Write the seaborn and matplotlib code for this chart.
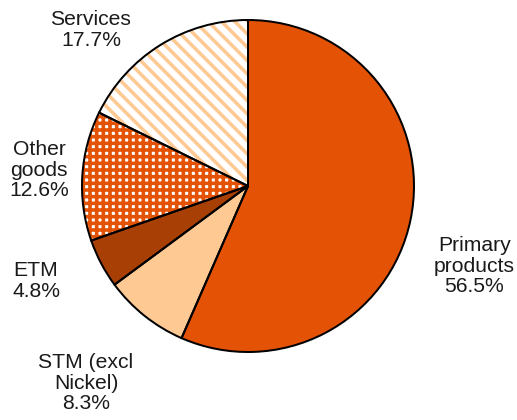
import matplotlib
matplotlib.use("Agg")
import matplotlib.pyplot as plt
import seaborn as sns

# export shares by category (%)
categories = ["Primary\nproducts", "STM (excl\nNickel)", "ETM", "Other\ngoods", "Services"]
shares = [56.5, 8.3, 4.8, 12.6, 17.7]

sns.set_theme(style="white")
plt.rcParams["font.family"] = ["Liberation Sans", "DejaVu Sans"]
plt.rcParams["hatch.linewidth"] = 3.2

fill_colors = ["#E35205", "#FFC993", "#A84005", "white", "white"]
hatch_colors = ["#E35205", "#FFC993", "#A84005", "#E35205", "#FFC993"]
hatches = [None, None, None, "++", "\\\\"]

# dpi 80 so that hatch spacing comes out like the reference
DPI = 80
fig = plt.figure(figsize=(517 / DPI, 420 / DPI), dpi=DPI)
ax = fig.add_axes([0, 0, 1, 1])

# fills (hatch drawn in the edge colour, no outline)
fills, _ = ax.pie(shares, colors=fill_colors, startangle=90, counterclock=False,
                  wedgeprops=dict(linewidth=0))
for w, h, hc in zip(fills, hatches, hatch_colors):
    w.set_edgecolor(hc)
    if h:
        w.set_hatch(h)

# black outlines on top
outlines, _ = ax.pie(shares, colors=["none"] * len(shares), startangle=90,
                     counterclock=False,
                     wedgeprops=dict(edgecolor="black", linewidth=1.8, facecolor="none"))

# label positions in pie radius units
label_pos = [(1.364, -0.482), (-0.976, -1.187), (-1.277, -0.572), (-1.259, 0.096), (-0.946, 0.94)]
for name, val, (lx, ly) in zip(categories, shares, label_pos):
    ax.text(lx, ly, f"{name}\n{val:.1f}%", ha="center", va="center",
            fontsize=19, color="#1a1a1a", linespacing=1.1)

# map unit circle to centre (248,186) px, radius 166 px
s = 166
ax.set_xlim(-248 / s, (517 - 248) / s)
ax.set_ylim((186 - 420) / s, 186 / s)
ax.set_aspect("auto")
ax.axis("off")

fig.savefig("out.png", dpi=DPI, facecolor="white")
